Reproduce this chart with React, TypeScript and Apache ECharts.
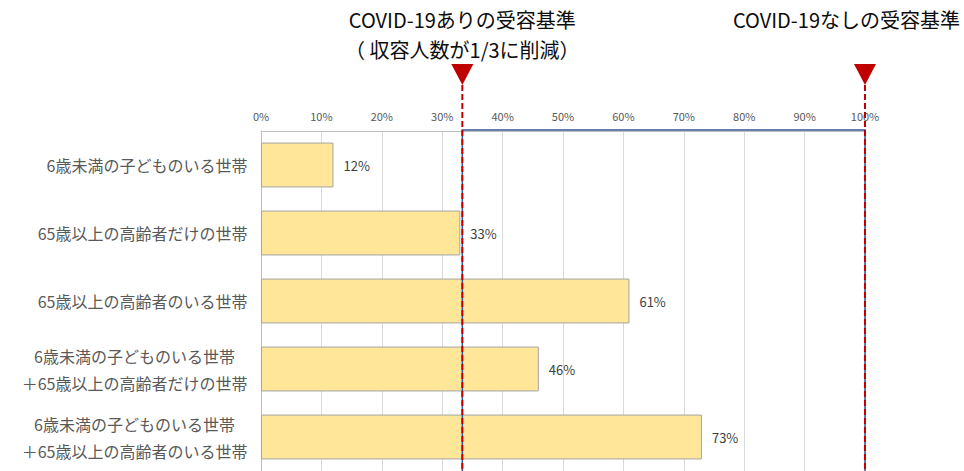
import React, { useEffect, useRef } from "react";
import * as echarts from "echarts";

const categories = [
  "6歳未満の子どものいる世帯",
  "65歳以上の高齢者だけの世帯",
  "65歳以上の高齢者のいる世帯",
  "6歳未満の子どものいる世帯\n＋65歳以上の高齢者だけの世帯",
  "6歳未満の子どものいる世帯\n＋65歳以上の高齢者のいる世帯",
];
const values = [12, 33, 61, 46, 73];
const thresholds = [100 / 3, 100];
const thresholdTitles = [
  "COVID-19ありの受容基準\n（ 収容人数が1/3に削減）",
  "COVID-19なしの受容基準",
];

const FONT = '"Noto Sans CJK JP", "Noto Sans", sans-serif';
const CAT_FONT_SIZE = 16;

function measure(s: string, font: string): number {
  const c = document.createElement("canvas").getContext("2d");
  if (!c) return s.length * 16;
  c.font = font;
  return c.measureText(s).width;
}

export default function App() {
  const ref = useRef<HTMLDivElement>(null);
  useEffect(() => {
    if (!ref.current) return;
    const chart = echarts.init(ref.current, undefined, { renderer: "svg" });
    const W = 964;
    const H = 471;

    const rich: Record<string, any> = {};
    categories.forEach((c, i) => {
      const w = Math.max(
        ...c.split("\n").map((l) => measure(l, `${CAT_FONT_SIZE}px "Noto Sans CJK JP"`))
      );
      rich["c" + i] = {
        width: Math.ceil(w) + 1,
        align: "center",
        fontSize: CAT_FONT_SIZE,
        fontFamily: FONT,
        color: "#595959",
        lineHeight: 27,
      };
    });

    chart.setOption({
      animation: false,
      grid: { left: 261, right: 99, top: 131, bottom: 0, containLabel: false },
      xAxis: {
        type: "value",
        position: "top",
        min: 0,
        max: 100,
        interval: 10,
        axisLine: { show: true, lineStyle: { color: "#bfbfbf", width: 1 } },
        axisTick: { show: false },
        splitLine: { show: true, lineStyle: { color: "#d9d9d9", width: 1 } },
        axisLabel: {
          formatter: "{value}%",
          fontSize: 11,
          color: "#595959",
          fontFamily: FONT,
          margin: 10,
        },
      },
      yAxis: {
        type: "category",
        inverse: true,
        data: categories,
        axisLine: { show: true, lineStyle: { color: "#bfbfbf", width: 1 } },
        axisTick: { show: false },
        axisLabel: {
          margin: 13,
          formatter: (val: string, idx: number) =>
            val
              .split("\n")
              .map((l) => `{c${idx}|${l}}`)
              .join("\n"),
          rich,
        },
      },
      series: [
        {
          type: "bar",
          data: values,
          barCategoryGap: "34%",
          itemStyle: { color: "#FFE699", borderColor: "#a5a5a5", borderWidth: 1 },
          label: {
            show: true,
            position: "right",
            distance: 10,
            formatter: "{c}%",
            fontSize: 13,
            color: "#404040",
            fontFamily: FONT,
          },
        },
      ],
    });

    const xs = thresholds.map(
      (t) => chart.convertToPixel({ xAxisIndex: 0 }, t) as unknown as number
    );
    const topY = 130;
    const graphics: any[] = [];
    graphics.push({
      type: "polyline",
      shape: {
        points: [
          [xs[0], H],
          [xs[0], topY],
          [xs[1], topY],
          [xs[1], H],
        ],
      },
      style: { stroke: "#2F5597", lineWidth: 1.5, fill: null },
      z: 10,
    });
    xs.forEach((x, i) => {
      graphics.push({
        type: "line",
        shape: { x1: x, y1: 85, x2: x, y2: H },
        style: { stroke: "#C00000", lineWidth: 2, lineDash: [6, 3] },
        z: 11,
      });
      graphics.push({
        type: "polygon",
        shape: {
          points: [
            [x - 11, 64],
            [x + 11, 64],
            [x, 85],
          ],
        },
        style: { fill: "#C00000" },
        z: 11,
      });
      const isLast = i === xs.length - 1;
      graphics.push({
        type: "text",
        x: isLast ? W - 4 : x,
        y: 4,
        style: {
          text: thresholdTitles[i],
          textAlign: isLast ? "right" : "center",
          textVerticalAlign: "top",
          fontSize: 20,
          fontFamily: FONT,
          lineHeight: 30,
          fill: "#0d0d0d",
        },
        z: 12,
      });
    });
    chart.setOption({ graphic: graphics });

    return () => chart.dispose();
  }, []);
  return (
    <div
      ref={ref}
      style={{ position: "fixed", left: 0, top: 0, width: 964, height: 471, background: "#fff" }}
    />
  );
}
